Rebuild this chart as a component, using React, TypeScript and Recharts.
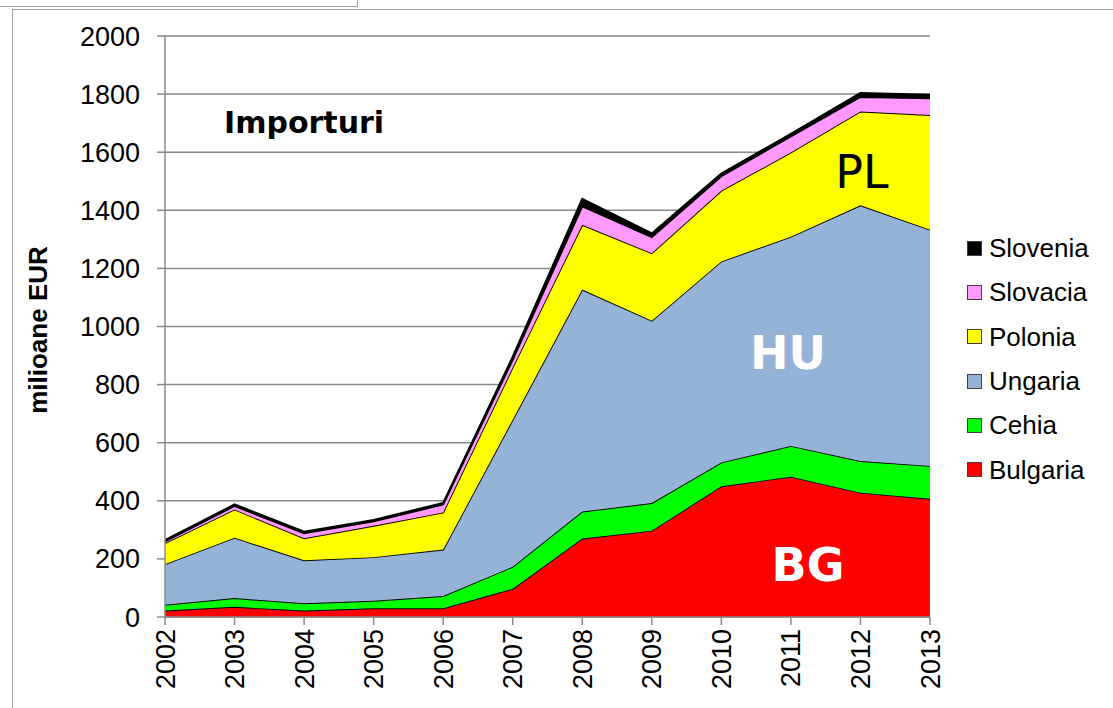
import React from "react";
import { AreaChart, Area, XAxis, YAxis, CartesianGrid } from "recharts";

const years = ["2002", "2003", "2004", "2005", "2006", "2007", "2008", "2009", "2010", "2011", "2012", "2013"];
const bulgaria = [22, 35, 22, 30, 30, 97, 270, 297, 450, 483, 428, 407];
const cehia = [20, 30, 25, 26, 42, 76, 93, 95, 82, 106, 109, 113];
const ungaria = [140, 208, 148, 150, 160, 506, 764, 628, 692, 720, 880, 813];
const polonia = [72, 97, 76, 108, 128, 180, 223, 232, 243, 290, 323, 395];
const slovacia = [6, 12, 17, 15, 27, 26, 63, 55, 50, 55, 50, 57];
const slovenia = [4, 5, 5, 5, 5, 10, 26, 13, 9, 9, 13, 12];
const yTicks = [0, 200, 400, 600, 800, 1000, 1200, 1400, 1600, 1800, 2000];

const series = [
  { key: "Bulgaria", values: bulgaria, color: "#FF0000" },
  { key: "Cehia", values: cehia, color: "#00FF00" },
  { key: "Ungaria", values: ungaria, color: "#95B3D7" },
  { key: "Polonia", values: polonia, color: "#FFFF00" },
  { key: "Slovacia", values: slovacia, color: "#FF99FF" },
  { key: "Slovenia", values: slovenia, color: "#000000" },
];

const data = years.map((y, i) => {
  const row: Record<string, number | string> = { year: y };
  series.forEach((s) => {
    row[s.key] = s.values[i];
  });
  return row;
});

const FONT = "'Liberation Sans', Arial, sans-serif";
const DEJAVU = "'DejaVu Sans', sans-serif";
const GRID = "#8a8a8a";

const XTick = (props: any) => {
  const { x, y, payload } = props;
  return (
    <text
      x={x}
      y={y}
      transform={`rotate(-90, ${x}, ${y})`}
      textAnchor="end"
      dy="0.355em"
      fontSize={27}
      fontFamily={FONT}
      fill="#000"
    >
      {payload.value}
    </text>
  );
};

const LegendBox = () => (
  <div style={{ position: "absolute", left: 967, top: 226, fontFamily: FONT, fontSize: 26, color: "#000" }}>
    {[...series].reverse().map((s) => (
      <div key={s.key} style={{ display: "flex", alignItems: "center", height: 44.3 }}>
        <div
          style={{
            width: 13,
            height: 13,
            background: s.color,
            border: "1px solid #404040",
            marginRight: 7,
          }}
        />
        <span style={{ lineHeight: "26px" }}>{s.key}</span>
      </div>
    ))}
  </div>
);

export default function App() {
  return (
    <div style={{ position: "fixed", left: 0, top: 0, width: 1113, height: 708, background: "#fff" }}>
      <div style={{ position: "absolute", left: 0, top: 0, width: 357, height: 6, borderRight: "1px solid #a0a0a0", borderBottom: "1px solid #a0a0a0" }} />
      <div style={{ position: "absolute", left: 12, top: 9, right: 0, height: 0, borderTop: "1px solid #a0a0a0" }} />
      <div style={{ position: "absolute", left: 12, top: 9, bottom: 0, width: 0, borderLeft: "1px solid #a0a0a0" }} />
      <div style={{ position: "absolute", left: 0, top: 0 }}>
        <AreaChart
          width={1113}
          height={708}
          data={data}
          margin={{ top: 36, right: 183, left: 0, bottom: 0 }}
        >
          <CartesianGrid vertical={false} stroke={GRID} strokeWidth={1.5} />
          <XAxis
            dataKey="year"
            height={91}
            tick={<XTick />}
            tickSize={8}
            tickMargin={4}
            interval={0}
            axisLine={{ stroke: GRID, strokeWidth: 1.5 }}
            tickLine={{ stroke: GRID, strokeWidth: 1.5 }}
          />
          <YAxis
            width={165}
            domain={[0, 2000]}
            ticks={yTicks}
            interval={0}
            tickSize={8}
            tickMargin={17}
            tick={{ fill: "#000", fontSize: 27, fontFamily: FONT }}
            axisLine={{ stroke: GRID, strokeWidth: 1.5 }}
            tickLine={{ stroke: GRID, strokeWidth: 1.5 }}
            label={{
              content: () => (
                <text
                  x={47}
                  y={330}
                  transform="rotate(-90, 47, 330)"
                  textAnchor="middle"
                  fontSize={26}
                  fontWeight="bold"
                  fontFamily={FONT}
                  fill="#000"
                >
                  milioane EUR
                </text>
              ),
            }}
          />
          {series.map((s) => (
            <Area
              key={s.key}
              type="linear"
              dataKey={s.key}
              stackId="1"
              fill={s.color}
              fillOpacity={1}
              stroke="#000"
              strokeWidth={s.key === "Slovenia" ? 2.2 : 1.8}
              isAnimationActive={false}
              dot={false}
              activeDot={false}
            />
          ))}
        </AreaChart>
      </div>
      <svg width={1113} height={708} style={{ position: "absolute", left: 0, top: 0, pointerEvents: "none" }}>
        <text x={224} y={133} fontSize={30} fontWeight="bold" fontFamily={DEJAVU} fill="#000">
          Importuri
        </text>
        <text x={862} y={188} textAnchor="middle" fontSize={46} fontFamily={DEJAVU} fill="#000">
          PL
        </text>
        <text x={788} y={369} textAnchor="middle" fontSize={46} fontWeight="bold" fontFamily={DEJAVU} fill="#fff">
          HU
        </text>
        <text x={808} y={581} textAnchor="middle" fontSize={46} fontWeight="bold" fontFamily={DEJAVU} fill="#fff">
          BG
        </text>
      </svg>
      <LegendBox />
    </div>
  );
}
